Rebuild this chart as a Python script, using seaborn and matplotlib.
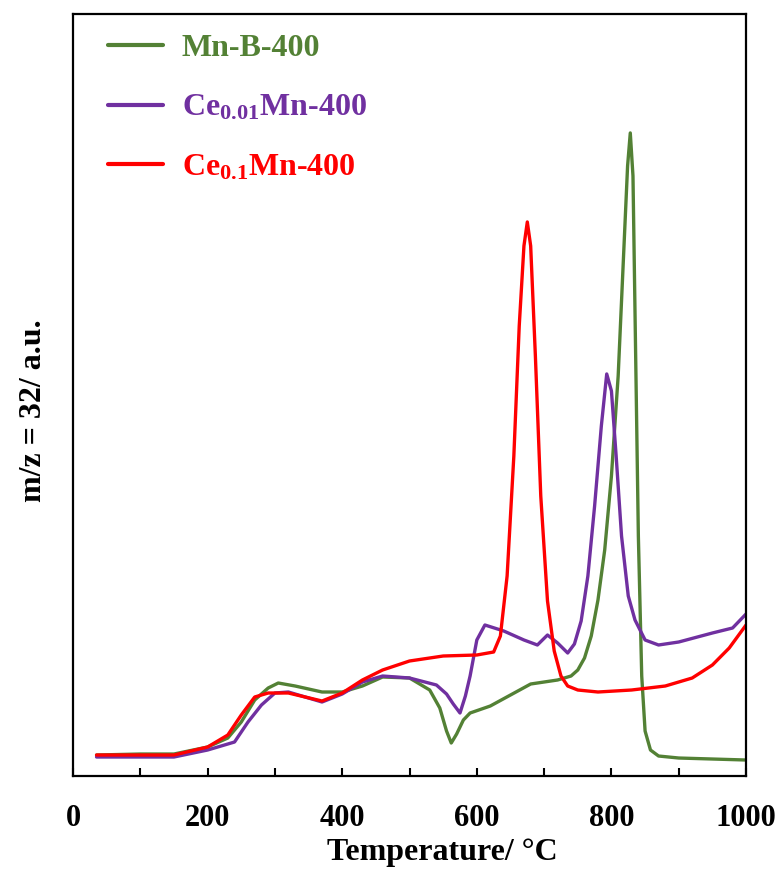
import seaborn as sns
import matplotlib.pyplot as plt
from matplotlib.ticker import MultipleLocator
import pandas as pd

# (y in arbitrary units, 0 = bottom of frame)
MNB_T = [35, 100, 150, 200, 230, 250, 270, 290, 305, 330, 370, 400, 430, 460, 500,
         530, 545, 555, 562, 570, 580, 590, 620, 650, 680, 720, 740, 750, 760, 770,
         780, 790, 800, 810, 818, 824, 828, 832, 836, 840, 845, 850, 858, 870, 900, 1000]
MNB_Y = [21, 22, 22, 29, 38, 54, 76, 88, 93, 90, 84, 84, 90, 99, 98,
         86, 68, 45, 33, 42, 56, 63, 70, 81, 92, 96, 100, 106, 118, 140,
         176, 226, 300, 400, 520, 610, 643, 600, 420, 240, 100, 45, 26, 20, 18, 16]

CE001_T = [35, 150, 200, 240, 260, 280, 300, 320, 370, 400, 430, 460, 500, 540,
           555, 565, 575, 583, 590, 600, 612, 640, 670, 690, 705, 720, 735, 745,
           755, 765, 775, 785, 793, 800, 807, 815, 825, 835, 850, 870, 900, 950,
           980, 1000]
CE001_Y = [19, 19, 26, 34, 54, 71, 83, 84, 74, 82, 94, 100, 98, 91,
           82, 72, 63, 80, 100, 136, 151, 145, 136, 131, 141, 133, 123, 132,
           155, 200, 270, 350, 402, 385, 320, 240, 180, 156, 136, 131, 134, 143,
           148, 162]

CE01_T = [35, 150, 200, 230, 250, 270, 290, 320, 370, 400, 430, 460, 500, 550,
          600, 625, 635, 645, 655, 663, 670, 675, 680, 687, 695, 705, 715, 725,
          735, 750, 780, 830, 880, 920, 950, 975, 1000]
CE01_Y = [21, 21, 29, 41, 61, 79, 83, 83, 75, 83, 96, 106, 115, 120,
          121, 124, 140, 200, 320, 450, 530, 554, 530, 420, 280, 175, 125, 100,
          90, 86, 84, 86, 90, 98, 111, 128, 151]

LABELS = ['Mn-B-400', 'Ce$_{0.01}$Mn-400', 'Ce$_{0.1}$Mn-400']
COLORS = ['#538135', '#7030a0', '#ff0000']


def build_frame():
    parts = []
    for label, t, y in zip(LABELS, [MNB_T, CE001_T, CE01_T], [MNB_Y, CE001_Y, CE01_Y]):
        parts.append(pd.DataFrame({'temp': t, 'signal': y, 'sample': label}))
    return pd.concat(parts, ignore_index=True)


sns.set_theme(style='ticks')
plt.rcParams['font.family'] = ['Liberation Serif', 'DejaVu Serif']
plt.rcParams['font.weight'] = 'bold'
plt.rcParams['text.color'] = 'black'
plt.rcParams['axes.labelcolor'] = 'black'
plt.rcParams['xtick.color'] = 'black'
plt.rcParams['mathtext.fontset'] = 'custom'
plt.rcParams['mathtext.rm'] = 'Liberation Serif:bold'
plt.rcParams['mathtext.it'] = 'Liberation Serif:bold'
plt.rcParams['mathtext.bf'] = 'Liberation Serif:bold'

fig = plt.figure(figsize=(7.79, 8.69), dpi=100)
ax = fig.add_axes([0.0937, 0.107, 0.864, 0.877])
df = build_frame()
sns.lineplot(data=df, x='temp', y='signal', hue='sample', palette=COLORS,
             hue_order=LABELS, sort=False, estimator=None, linewidth=2.4, ax=ax)

ax.set_xlim(0, 1000)
ax.set_ylim(0, 762)
ax.xaxis.set_major_locator(MultipleLocator(200))
ax.xaxis.set_minor_locator(MultipleLocator(100))
ax.tick_params(axis='x', which='both', direction='in', length=6, width=1.5,
               labelsize=22, pad=20, top=False, colors='black')
ax.set_yticks([])
for s in ax.spines.values():
    s.set_linewidth(1.6)
    s.set_color('black')
for lab in ax.get_xticklabels():
    lab.set_fontweight('bold')

ax.set_xlabel('Temperature/ °C', fontsize=23, fontweight='bold', labelpad=4)
ax.set_ylabel('m/z = 32/ a.u.', fontsize=23, fontweight='bold', labelpad=18)
ax.xaxis.label.set_x(0.548)
ax.yaxis.label.set_y(0.48)

leg = ax.legend(loc='upper left', frameon=False, fontsize=23, handlelength=1.7,
                handletextpad=0.6, labelspacing=0.95, bbox_to_anchor=(0.01, 1.012))
for line, text, c in zip(leg.get_lines(), leg.get_texts(), COLORS):
    line.set_linewidth(3)
    text.set_color(c)

fig.savefig('out.png', dpi=100)
